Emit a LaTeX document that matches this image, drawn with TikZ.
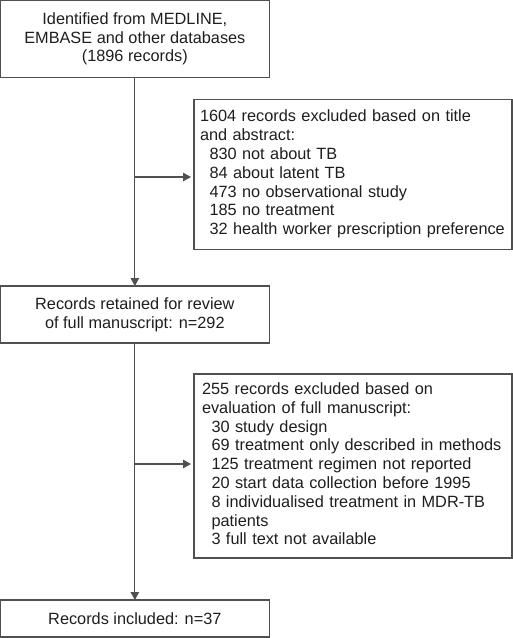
\documentclass[tikz,border=0pt]{standalone}
\usepackage{fontspec}
\setmainfont{Liberation Sans}
\usetikzlibrary{arrows.meta}
\definecolor{linec}{HTML}{505050}
\definecolor{textc}{HTML}{1E1E1E}
\begin{document}
\begin{tikzpicture}[x=1pt,y=-1pt,
  box/.style={draw=linec, line width=1.1pt, outer sep=0pt, inner sep=0pt, anchor=north west,
    font=\fontsize{16.3}{18.8}\selectfont, text=textc},
  lbox/.style={box, align=left},
  cbox/.style={box, align=center},
  arr/.style={draw=linec, line width=1.1pt, -{Triangle[length=8pt,width=8.5pt]}}
]
\useasboundingbox (0,0) rectangle (513,638);
\newcommand{\ind}{\hspace*{9.5pt}}
\node[cbox, minimum width=268.5pt, minimum height=76.5pt] (b1) at (0.6,0.6)
  {Identified from MEDLINE,\\EMBASE and other databases\\(1896 records)};
\node[lbox, minimum width=318pt, minimum height=150pt, text width=306pt, inner xsep=6pt] (b2) at (194,99.5)
  {\begin{tabular}{@{}l@{}}1604 records excluded based on title\\and abstract:\\
   \ind 830 not about TB\\
   \ind 84 about latent TB\\
   \ind 473 no observational study\\
   \ind 185 no treatment\\
   \ind 32 health worker prescription preference\end{tabular}};
\node[cbox, minimum width=268.5pt, minimum height=57pt] (b3) at (0.6,286)
  {Records retained for review\\of full manuscript: n=292};
\node[lbox, minimum width=318pt, minimum height=184pt, text width=302pt, inner xsep=8pt] (b4) at (194,374)
  {\begin{tabular}{@{}l@{}}255 records excluded based on\\evaluation of full manuscript:\\
   \ind 30 study design\\
   \ind 69 treatment only described in methods\\
   \ind 125 treatment regimen not reported\\
   \ind 20 start data collection before 1995\\
   \ind 8 individualised treatment in MDR-TB\\
   \ind patients\\
   \ind 3 full text not available\end{tabular}};
\node[cbox, minimum width=268.5pt, minimum height=37pt] (b5) at (0.6,600)
  {Records included: n=37};
\coordinate (j1) at (b1.south |- 0,177);
\coordinate (j2) at (b3.south |- 0,464);
\draw[arr] (b1.south) -- (b3.north);
\draw[arr, shorten >=3pt] (j1) -- (j1 -| b2.west);
\draw[arr] (b3.south) -- (b5.north);
\draw[arr, shorten >=3pt] (j2) -- (j2 -| b4.west);
\end{tikzpicture}
\end{document}
